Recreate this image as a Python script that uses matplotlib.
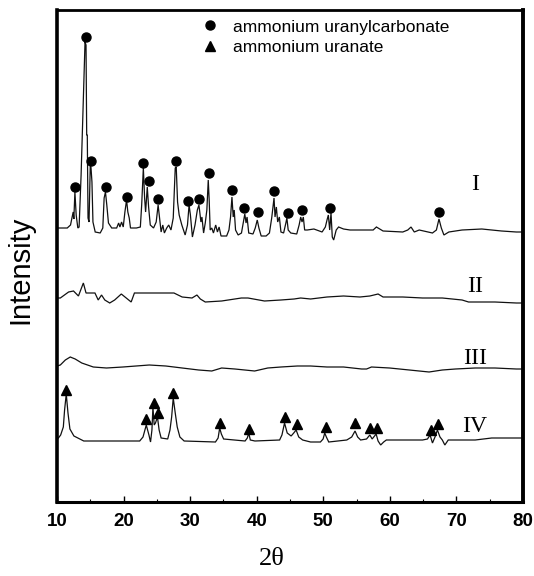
import matplotlib
matplotlib.use("Agg")
import matplotlib.pyplot as plt
from matplotlib.ticker import MultipleLocator

# ---------------- data (2-theta, intensity above each curve's baseline, a.u.) ----------------
theta_I = [10.0, 11.54, 12.03, 12.28, 12.43, 12.53, 12.69, 12.88, 13.13, 13.32, 13.62, 13.92, 14.21,
           14.36, 14.46, 14.55, 14.66, 14.81, 15.0, 15.10, 15.25, 15.40, 15.74, 16.49, 16.88, 17.08,
           17.28, 17.48, 17.73, 18.22, 18.96, 19.26, 19.45, 19.70, 19.95, 20.20, 20.45, 20.64, 20.85,
           21.04, 21.93, 22.52, 22.72, 22.97, 23.16, 23.31, 23.56, 23.76, 24.01, 24.50, 24.90, 25.19,
           25.39, 25.64, 25.89, 26.13, 26.48, 26.78, 27.12, 27.46, 27.76, 27.91, 28.11, 28.35, 28.75,
           29.25, 29.60, 29.84, 30.04, 30.34, 30.73, 31.08, 31.32, 31.62, 31.77, 32.02, 32.27, 32.51,
           32.72, 32.86, 33.01, 33.25, 33.50, 33.84, 34.10, 34.35, 34.64, 35.48, 35.83, 36.07, 36.28,
           36.47, 36.62, 36.82, 37.21, 37.71, 38.00, 38.21, 38.40, 38.55, 38.80, 39.44, 39.78, 40.08,
           40.33, 40.67, 41.41, 41.91, 42.25, 42.45, 42.60, 42.75, 42.95, 43.15, 43.40, 43.64, 44.04,
           44.38, 44.53, 44.73, 45.12, 46.01, 46.37, 46.61, 46.81, 47.00, 47.20, 47.60, 48.59, 49.82,
           50.31, 50.56, 50.76, 50.96, 51.16, 51.35, 51.56, 51.94, 52.30, 53.04, 54.02, 55.01, 57.49,
           57.98, 58.98, 61.94, 62.69, 63.18, 63.67, 64.41, 66.40, 66.99, 67.38, 67.73, 68.12, 68.86,
           70.85, 73.81, 76.78, 79.0, 80.0]
inten_I = [2, 2, 5, 13, 18, 11, 38, 15, 2, 3, 55, 122, 188,
           185, 95, 95, 12, 8, 65, 63, 48, 8, -2, -3, 2, 32,
           38, 25, 7, 2, 2, 7, 3, 8, 3, 18, 30, 18, 12,
           2, 2, 3, 25, 62, 32, 18, 43, 23, 5, 2, 8, 25,
           13, -2, 5, -3, 2, 5, 0, 12, 62, 63, 28, 15, 5,
           -5, 5, 25, 15, -7, 5, 20, 25, 8, 13, -3, 7, 20,
           50, 30, 0, 2, -3, 5, -2, 3, -6, -6, 0, 13, 33,
           13, 20, 0, -5, -3, 8, 16, 7, 13, -3, -4, 2, 10,
           2, -6, -6, -3, 12, 23, 32, 13, 23, 8, 13, -2, -3,
           7, 12, 0, -3, -4, 5, 13, 8, 13, 0, 0, 1, -2,
           3, 10, 15, 0, 17, -7, -10, 0, 3, 1, 0, 0, 0,
           3, -1, -2, 0, 3, -2, 0, -3, 0, 11, 2, -5, -2,
           0, 1, -1, -2, -2]

theta_II = [10.0, 10.50, 11.74, 12.48, 13.22, 13.96, 14.36, 14.96, 15.70, 16.19, 16.69, 17.18, 17.92,
            18.66, 19.66, 20.40, 21.14, 21.63, 23.86, 25.83, 27.57, 28.80, 30.28, 31.02, 31.53,
            32.27, 34.73, 37.70, 38.69, 41.17, 43.64, 45.62, 46.60, 48.09, 50.56, 53.04, 55.50,
            56.99, 58.23, 58.98, 61.94, 64.91, 67.88, 70.85, 71.82, 75.78, 79.0, 80.0]
inten_II = [2, 2, 8, 9, 4, 17, 7, 7, 7, 0, 5, 0, -3,
            0, 6, 2, -2, 7, 7, 7, 7, 3, 2, 5, 1,
            -2, -1, 2, 2, -1, 0, 1, 2, 1, 3, 4, 3,
            4, 6, 3, 3, 2, 2, 0, -2, -2, -3, -3]

theta_III = [10.0, 10.50, 11.25, 11.99, 12.73, 13.72, 15.45, 17.43, 19.90, 23.86, 26.34, 28.80, 31.28,
             33.25, 34.73, 36.72, 39.69, 41.66, 43.64, 46.11, 48.09, 50.56, 53.04, 55.76, 56.50,
             57.24, 59.96, 62.92, 65.89, 67.88, 69.85, 72.82, 75.78, 79.0, 80.0]
inten_III = [2, 3, 8, 11, 9, 5, 1, 0, 1, 3, 2, 0, -2,
             -3, 0, -1, -3, 0, 1, 2, 2, 1, 1, -1, -1,
             1, 0, -2, -4, -2, -1, 0, 0, -1, -1]

theta_IV = [10.0, 10.21, 10.55, 10.95, 11.14, 11.39, 11.65, 11.94, 12.54, 14.02, 17.48, 22.42, 22.92,
            23.41, 23.81, 24.05, 24.26, 24.41, 24.60, 24.79, 25.09, 25.34, 25.64, 26.63, 26.97,
            27.22, 27.46, 27.76, 28.06, 28.46, 29.10, 33.80, 34.20, 34.44, 34.69, 35.03, 38.25,
            38.59, 38.80, 39.04, 39.73, 43.44, 43.79, 44.18, 44.58, 45.17, 45.56, 45.92, 46.31,
            46.90, 48.09, 49.57, 49.97, 50.22, 50.46, 50.82, 53.53, 54.27, 54.77, 55.16, 55.61,
            56.50, 56.99, 57.34, 57.58, 57.94, 58.23, 58.62, 59.07, 59.47, 64.91, 65.65, 66.04,
            66.40, 66.78, 67.14, 67.53, 67.88, 68.26, 68.77, 72.82, 75.30, 79.0, 80.0]
inten_IV = [2, 3, 6, 14, 31, 47, 28, 12, 5, 0, 0, 0, 4,
            16, 6, -1, 11, 34, 16, 18, 24, 11, 3, 2, 11,
            24, 43, 28, 14, 4, 0, -1, 3, 13, 7, 2, 0,
            3, 8, 1, 0, 1, 6, 18, 8, 5, 8, 11, 4,
            1, -1, -1, 2, 8, 4, -1, 1, 4, 10, 4, 1,
            2, 6, 2, 4, 7, 0, -4, -1, 1, 1, 2, 6,
            -2, 4, 11, 4, 1, -4, 1, 1, 3, 3, 3]

# stacking offsets of the four patterns
offsets = {"I": 272, "II": 202, "III": 134, "IV": 61}

# phase markers: ammonium uranylcarbonate (circles, pattern I)
auc_theta = [12.69, 14.36, 15.10, 17.33, 20.45, 22.97, 23.81, 25.24, 27.86, 29.75, 31.28, 32.86,
             36.32, 38.10, 40.22, 42.66, 44.67, 46.81, 50.96, 67.37]
auc_height = [43, 193, 69, 43, 33, 67, 49, 31, 69, 29, 31, 57,
              40, 22, 18, 39, 17, 20, 22, 18]
# ammonium uranate (triangles, pattern IV)
au_theta = [11.40, 23.41, 24.54, 25.22, 27.46, 34.55, 38.84, 44.30, 46.00, 50.41, 54.83, 56.99,
            58.09, 66.14, 67.28]
au_height = [51, 22, 38, 28, 48, 18, 12, 24, 17, 14, 18, 13, 13, 11, 17]

curve_labels = ["I", "II", "III", "IV"]
label_y = [317, 216, 143, 76]
label_x = 72.8

legend_labels = ["ammonium uranylcarbonate", "ammonium uranate"]
xticks = [10, 20, 30, 40, 50, 60, 70, 80]

# ---------------- figure ----------------
W, H = 534, 576
fig = plt.figure(figsize=(W / 100, H / 100), dpi=100)
ax = fig.add_axes([57 / W, 1 - 502 / H, (523 - 57) / W, (502 - 10) / H])

lc = "#111111"
lw = 0.9
for th, it, key in [(theta_I, inten_I, "I"), (theta_II, inten_II, "II"),
                    (theta_III, inten_III, "III"), (theta_IV, inten_IV, "IV")]:
    ax.plot(th, [v + offsets[key] for v in it], color=lc, lw=lw, solid_joinstyle="miter")

ax.plot(auc_theta, [h + offsets["I"] for h in auc_height], ls="none", marker="o",
        ms=6.5, color="black", label=legend_labels[0])
ax.plot(au_theta, [h + offsets["IV"] for h in au_height], ls="none", marker="^",
        ms=7.0, color="black", label=legend_labels[1])

for lab, yy in zip(curve_labels, label_y):
    ax.text(label_x, yy, lab, fontsize=17, family="Liberation Serif", ha="center", va="center")

ax.set_xlim(10, 80)
ax.set_ylim(0, 492)
ax.set_xticks(xticks)
ax.xaxis.set_minor_locator(MultipleLocator(5))
ax.set_yticks([])
ax.tick_params(axis="x", which="major", direction="in", length=4, width=1.0, pad=8,
               labelsize=13.5, top=False)
ax.tick_params(axis="x", which="minor", direction="in", length=2.5, width=0.8, top=False)
for lbl in ax.get_xticklabels():
    lbl.set_fontweight("bold")
    lbl.set_family("Liberation Sans")

for side, w in [("left", 2.6), ("right", 2.8), ("top", 2.0), ("bottom", 2.2)]:
    ax.spines[side].set_linewidth(w)

leg = ax.legend(loc="upper left", bbox_to_anchor=(0.295, 0.995), frameon=False,
                handlelength=1.0, handletextpad=0.8, labelspacing=0.3,
                prop={"family": "Liberation Sans", "size": 12.5}, borderaxespad=0.0)

fig.text(20 / W, 1 - 270 / H, "Intensity", rotation=90, ha="center", va="center",
         fontsize=21, family="Liberation Sans")
fig.text(272 / W, 1 - 559 / H, "2θ", ha="center", va="center", fontsize=19,
         family="Liberation Serif")

fig.savefig("out.png", dpi=100)
